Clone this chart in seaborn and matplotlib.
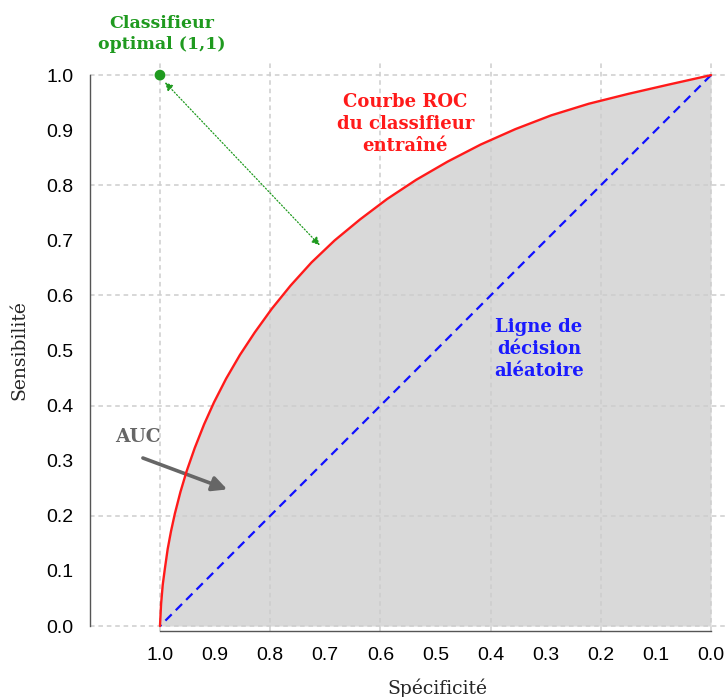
import matplotlib
matplotlib.use('Agg')
import matplotlib.pyplot as plt
import seaborn as sns

# ROC curve (specificity, sensitivity)
roc_spec = [1.0, 0.998, 0.995, 0.991, 0.986, 0.980, 0.973, 0.963, 0.952, 0.937,
            0.920, 0.902, 0.880, 0.855, 0.828, 0.797, 0.763, 0.725, 0.683, 0.637,
            0.588, 0.535, 0.478, 0.418, 0.355, 0.290, 0.222, 0.150, 0.076, 0.0]
roc_sens = [0.0, 0.04, 0.075, 0.105, 0.14, 0.172, 0.204, 0.243, 0.28, 0.323,
            0.366, 0.406, 0.449, 0.492, 0.533, 0.576, 0.618, 0.66, 0.70, 0.738,
            0.775, 0.81, 0.843, 0.874, 0.902, 0.927, 0.948, 0.966, 0.983, 1.0]

# random decision line
rand_spec = [1.0, 0.0]
rand_sens = [0.0, 1.0]

# optimal classifier
opt_spec = [1.0]
opt_sens = [1.0]

tick_vals = [0.0, 0.1, 0.2, 0.3, 0.4, 0.5, 0.6, 0.7, 0.8, 0.9, 1.0]
tick_labels = ['0.0', '0.1', '0.2', '0.3', '0.4', '0.5', '0.6', '0.7', '0.8', '0.9', '1.0']
grid_vals = [0.0, 0.2, 0.4, 0.6, 0.8, 1.0]

sns.set_style('white')
plt.rcParams['font.family'] = ['DejaVu Serif']

fig = plt.figure(figsize=(7.27, 6.97), dpi=100)
ax = fig.add_axes([90 / 727, 66 / 697, 637 / 727, 568 / 697])

ax.fill_between(roc_spec, roc_sens, 0, color='#d9d9d9', lw=0, zorder=1)

grid_kw = dict(color='#cdcdcd', lw=1.1, linestyle=(0, (3, 2.5)), zorder=1.5)
for g in grid_vals:
    ax.axvline(g, **grid_kw)
    ax.axhline(g, **grid_kw)

sns.lineplot(x=rand_spec, y=rand_sens, color='#1010ff', lw=1.6,
             linestyle=(0, (4, 2.6)), ax=ax, zorder=3)
sns.lineplot(x=roc_spec, y=roc_sens, sort=False, estimator=None,
             color='#ff1a1a', lw=1.7, ax=ax, zorder=4)
sns.scatterplot(x=opt_spec, y=opt_sens, color='#1f9a1f', s=60,
                edgecolor='none', ax=ax, zorder=5, clip_on=False)

ax.set_xlim(1.127, -0.029)
ax.set_ylim(-0.009, 1.022)

ax.set_xticks(tick_vals)
ax.set_xticklabels(tick_labels)
ax.set_yticks(tick_vals)
ax.set_yticklabels(tick_labels)
for lab in ax.get_xticklabels() + ax.get_yticklabels():
    lab.set_family('Liberation Sans')
    lab.set_fontsize(14)
ax.tick_params(axis='both', direction='out', length=5, width=1,
               color='#555555', labelcolor='black')
ax.tick_params(axis='x', pad=6.5)
ax.tick_params(axis='y', pad=7)

for s in ['top', 'right']:
    ax.spines[s].set_visible(False)
for s in ['left', 'bottom']:
    ax.spines[s].set_color('#555555')
    ax.spines[s].set_linewidth(1)
    ax.spines[s].set_bounds(0, 1)

ax.set_xlabel('Spécificité', fontsize=13.5)
ax.set_ylabel('Sensibilité', fontsize=13.5)
ax.xaxis.set_label_coords(0.545, -0.084)
ax.yaxis.set_label_coords(-0.097, 0.495)

# annotations
ax.text(0.996, 1.075, 'Classifieur\noptimal (1,1)', color='#1f9a1f',
        fontsize=12.5, fontweight='bold', ha='center', va='center',
        linespacing=1.3, clip_on=False)
ax.annotate('', xy=(0.991, 0.987), xytext=(0.710, 0.691),
            arrowprops=dict(arrowstyle='<|-|>', color='#1f9a1f', lw=0.9,
                            linestyle=':', mutation_scale=12,
                            shrinkA=0, shrinkB=0))

ax.text(0.555, 0.911, 'Courbe ROC\ndu classifieur\nentraîné', color='#ff1a1a',
        fontsize=13, fontweight='bold', ha='center', va='center', linespacing=1.3)

ax.text(0.312, 0.503, 'Ligne de\ndécision\naléatoire', color='#1a1aff',
        fontsize=13, fontweight='bold', ha='center', va='center', linespacing=1.3)

ax.text(1.040, 0.343, 'AUC', color='#666666', fontsize=13.5,
        fontweight='bold', ha='center', va='center')
ax.annotate('', xy=(0.878, 0.248), xytext=(1.031, 0.305),
            arrowprops=dict(arrowstyle='-|>', color='#666666', lw=2.6,
                            mutation_scale=22, shrinkA=0, shrinkB=0))

fig.savefig('out.png', dpi=100)
